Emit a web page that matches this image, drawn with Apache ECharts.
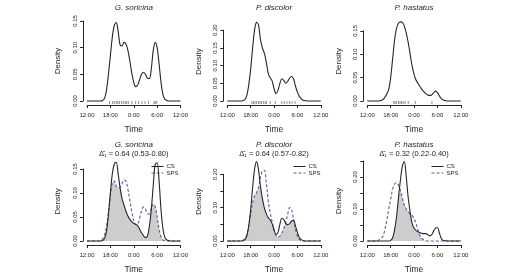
<!DOCTYPE html>
<html><head><meta charset="utf-8">
<script src="https://cdn.jsdelivr.net/npm/echarts@6/dist/echarts.min.js"></script>
<style>html,body{margin:0;padding:0;background:#fff}#c{width:528px;height:280px}</style>
</head><body><div id="c"></div>
<script>
// ---------- data ----------
const hours = [12,12.5,13,13.5,14,14.5,15,15.5,16,16.5,17,17.5,18,18.5,19,19.5,20,20.5,21,21.5,22,22.5,23,23.5,24,24.5,25,25.5,26,26.5,27,27.5,28,28.5,29,29.5,30,30.5,31,31.5,32,32.5,33,33.5,34,34.5,35,35.5,36];
const timeTicks = ['12:00','18:00','0:00','6:00','12:00'];
const species = ['G. soricina','P. discolor','P. hastatus'];
const overlapText = ['0.64 (0.53-0.80)','0.64 (0.57-0.82)','0.32 (0.22-0.40)'];

// top row: all activity densities
const gsAll = [0,0,0,0,0,0,0,0, 0.001,0.005,0.02,0.05,0.085,0.12,0.142,0.147, 0.13,0.105,0.103,0.11,0.107,0.095,0.075,0.052, 0.035,0.027,0.03,0.04,0.05,0.054,0.05,0.043, 0.042,0.06,0.095,0.11,0.1,0.07,0.035,0.012, 0.003,0.001,0,0,0,0,0,0,0];
const pdAll = [0,0,0,0,0,0,0,0, 0.001,0.004,0.015,0.045,0.09,0.15,0.2,0.222, 0.215,0.175,0.15,0.135,0.11,0.078,0.066,0.057, 0.035,0.021,0.03,0.05,0.063,0.058,0.05,0.055, 0.065,0.069,0.062,0.042,0.025,0.013,0.006,0.002, 0.001,0,0,0,0,0,0,0,0];
const phAll = [0,0,0,0,0,0,0,0.001, 0.003,0.008,0.015,0.025,0.05,0.09,0.13,0.155, 0.166,0.169,0.168,0.16,0.145,0.125,0.1,0.075, 0.057,0.045,0.038,0.031,0.025,0.02,0.016,0.013, 0.012,0.013,0.017,0.021,0.018,0.011,0.005,0.002, 0.001,0,0,0,0,0,0,0,0];

// rug (detection times, hours from noon)
const gsRug = [17.8,18.6,19.0,19.5,19.9,20.3,20.9,21.3,21.8,22.2,22.6,23.5,24.5,25.2,26.1,26.9,27.8,29.2,29.5,29.9];
const pdRug = [18.3,18.7,19.1,19.55,20.0,20.4,20.8,21.3,21.7,22.1,23.0,24.3,26.0,26.6,27.3,28.0,28.6,29.4];
const phRug = [18.8,19.1,19.5,20.0,20.4,20.8,21.2,21.7,22.5,24.3,28.6];

// bottom row: CS vs SPS densities
const gsCS  = [0,0,0,0,0,0,0,0, 0.001,0.005,0.02,0.055,0.1,0.14,0.16,0.164, 0.14,0.11,0.088,0.075,0.062,0.052,0.045,0.04, 0.037,0.035,0.032,0.025,0.017,0.011,0.007,0.01, 0.03,0.065,0.115,0.16,0.163,0.125,0.065,0.025, 0.007,0.002,0.001,0,0,0,0,0,0];
const gsSPS = [0,0,0,0,0,0,0,0.001, 0.004,0.012,0.03,0.06,0.095,0.12,0.125,0.115, 0.11,0.112,0.12,0.127,0.125,0.108,0.085,0.06, 0.042,0.034,0.035,0.047,0.063,0.071,0.066,0.058, 0.056,0.068,0.077,0.072,0.05,0.025,0.009,0.002, 0.001,0,0,0,0,0,0,0,0];
const pdCS  = [0,0,0,0,0,0,0,0, 0.001,0.004,0.015,0.045,0.095,0.16,0.215,0.238, 0.215,0.165,0.128,0.1,0.082,0.07,0.063,0.052, 0.033,0.02,0.025,0.05,0.068,0.064,0.053,0.049, 0.052,0.06,0.062,0.045,0.025,0.01,0.004,0.001, 0,0,0,0,0,0,0,0,0];
const pdSPS = [0,0,0,0,0,0,0,0, 0.002,0.006,0.018,0.045,0.08,0.115,0.135,0.145, 0.16,0.19,0.21,0.212,0.175,0.12,0.085,0.058, 0.035,0.017,0.012,0.015,0.025,0.038,0.055,0.08, 0.1,0.095,0.065,0.035,0.015,0.005,0.001,0, 0,0,0,0,0,0,0,0,0];
const phCS  = [0,0,0,0,0,0,0,0,0,0,0,0, 0.002,0.01,0.035,0.075, 0.135,0.19,0.235,0.248,0.2,0.135,0.09,0.055, 0.04,0.033,0.029,0.026,0.024,0.023,0.023,0.02, 0.016,0.019,0.03,0.04,0.042,0.025,0.008,0.002, 0.001,0,0,0,0,0,0,0,0];
const phSPS = [0,0,0,0,0,0.001,0.003,0.007, 0.015,0.035,0.065,0.1,0.13,0.162,0.178,0.182, 0.175,0.158,0.135,0.113,0.1,0.092,0.085,0.08, 0.07,0.055,0.035,0.018,0.008,0.003,0.001,0, 0,0,0,0,0,0,0,0,0,0,0,0,0,0,0,0,0];

// ---------- layout / style ----------
const FONT = '"Liberation Sans", Arial, sans-serif';
const INK = '#262626', SPSCOL = '#5a5d9c', FILL = '#cdcdcd';
const colLeft = [87, 227.3, 367.3], colW = 93.5;
const topRow = [{top:21, h:80, max:0.15, lab:[0,0.05,0.1,0.15], namePad:0},
                {top:30.2, h:70.8, max:0.20, lab:[0,0.05,0.1,0.15,0.2], namePad:8},
                {top:30.8, h:70.2, max:0.15, lab:[0,0.05,0.1,0.15], namePad:9}];
const botRow = [{top:169, h:72, max:0.15, lab:[0,0.05,0.1,0.15], namePad:7},
                {top:174.3, h:66.7, max:0.20, lab:[0,0.1,0.2], namePad:12},
                {top:161, h:80, max:0.25, lab:[0,0.1,0.2], namePad:0}];
const allTop = [gsAll, pdAll, phAll];
const rugs = [gsRug, pdRug, phRug];
const csArr = [gsCS, pdCS, phCS];
const spsArr = [gsSPS, pdSPS, phSPS];

const pairs = v => hours.map((h, i) => [h, v[i]]);
const minPairs = (a, b) => hours.map((h, i) => [h, Math.min(a[i], b[i])]);

const grids = [], xAxes = [], yAxes = [], series = [], titles = [], legends = [];

function addPanel(k, col, cfg) {
  grids.push({left: colLeft[col], top: cfg.top, width: colW, height: cfg.h,
              containLabel: false, outerBoundsMode: 'none'});
  xAxes.push({gridIndex: k, type: 'value', min: 12, max: 36, interval: 6, offset: 4,
    axisLine: {show: true, onZero: false, lineStyle: {color: INK, width: 1}},
    axisTick: {show: true, length: 3, lineStyle: {color: INK}},
    axisLabel: {fontSize: 6, color: INK, margin: 7, fontFamily: FONT,
      formatter: v => timeTicks[Math.round((v - 12) / 6)] || ''},
    splitLine: {show: false},
    name: 'Time', nameLocation: 'middle', nameGap: 20, nameMoveOverlap: false,
    nameTextStyle: {fontSize: 8.5, color: INK, fontFamily: FONT}});
  yAxes.push({gridIndex: k, type: 'value', min: 0, max: cfg.max, interval: 0.05, offset: 4,
    axisLine: {show: true, onZero: false, lineStyle: {color: INK, width: 1}},
    axisTick: {show: true, length: 3, lineStyle: {color: INK}},
    axisLabel: {fontSize: 6, color: INK, margin: 5, rotate: 90, fontFamily: FONT,
      formatter: v => cfg.lab.some(l => Math.abs(l - v) < 1e-6) ? v.toFixed(2) : ''},
    splitLine: {show: false},
    name: 'Density', nameLocation: 'middle', nameGap: 21, nameRotate: 90, nameMoveOverlap: false,
    nameTextStyle: {fontSize: 8, color: INK, fontFamily: FONT, padding: [0, 0, 0, cfg.namePad]}});
}

for (let c = 0; c < 3; c++) {
  addPanel(c, c, topRow[c]);
  series.push({type: 'line', name: 'all' + c, xAxisIndex: c, yAxisIndex: c, data: pairs(allTop[c]),
    smooth: 0.35, symbol: 'none', clip: false, lineStyle: {color: INK, width: 1.1}, z: 3});
  series.push({type: 'scatter', name: 'rug' + c, xAxisIndex: c, yAxisIndex: c,
    data: rugs[c].map(t => [t, 0]), symbol: 'rect', symbolSize: [0.8, 3], symbolOffset: [0, 1.5],
    itemStyle: {color: '#555'}, clip: false, z: 2});
  const cx = colLeft[c] + colW / 2;
  titles.push({text: species[c], left: cx, top: 3.5, textAlign: 'center', padding: 0,
    textStyle: {fontSize: 8, fontStyle: 'italic', fontWeight: 'normal', color: INK, fontFamily: FONT}});
}
for (let c = 0; c < 3; c++) {
  const k = 3 + c;
  addPanel(k, c, botRow[c]);
  series.push({type: 'line', name: 'overlap', xAxisIndex: k, yAxisIndex: k,
    data: minPairs(csArr[c], spsArr[c]), smooth: 0.35, symbol: 'none', clip: false,
    lineStyle: {width: 0}, areaStyle: {color: FILL, opacity: 1}, z: 1});
  series.push({type: 'line', name: 'SPS', xAxisIndex: k, yAxisIndex: k, data: pairs(spsArr[c]),
    smooth: 0.35, symbol: 'none', clip: false, itemStyle: {color: SPSCOL},
    lineStyle: {color: SPSCOL, width: 1.1, type: [3, 2]}, z: 3});
  series.push({type: 'line', name: 'CS', xAxisIndex: k, yAxisIndex: k, data: pairs(csArr[c]),
    smooth: 0.35, symbol: 'none', clip: false, itemStyle: {color: INK},
    lineStyle: {color: INK, width: 1.1}, z: 4});
  const cx = colLeft[c] + colW / 2;
  titles.push({text: species[c], left: cx, top: 140.5, textAlign: 'center', padding: 0,
    textStyle: {fontSize: 8, fontStyle: 'italic', fontWeight: 'normal', color: INK, fontFamily: FONT}});
  titles.push({text: 'Δ\u0302\u2081 = ' + overlapText[c], left: cx, top: 149.5, textAlign: 'center', padding: 0,
    textStyle: {fontSize: 7.5, fontWeight: 'normal', color: INK, fontFamily: FONT}});
}
const legLeft = [151, 293, 431];
for (let c = 0; c < 3; c++) {
  legends.push({data: ['CS', 'SPS'], left: legLeft[c], top: 163.5, orient: 'vertical',
    itemWidth: 12, itemHeight: 6, itemGap: 0.5, padding: 0, selectedMode: false,
    itemStyle: {opacity: 0, borderWidth: 0}, lineStyle: {width: 1},
    textStyle: {fontSize: 6, color: INK, fontFamily: FONT, padding: [0, 0, 0, -2]}});
}

const chart = echarts.init(document.getElementById('c'), null, {renderer: 'canvas'});
chart.setOption({
  animation: false, backgroundColor: '#fff',
  title: titles, legend: legends, grid: grids, xAxis: xAxes, yAxis: yAxes, series: series
});
</script></body></html>
